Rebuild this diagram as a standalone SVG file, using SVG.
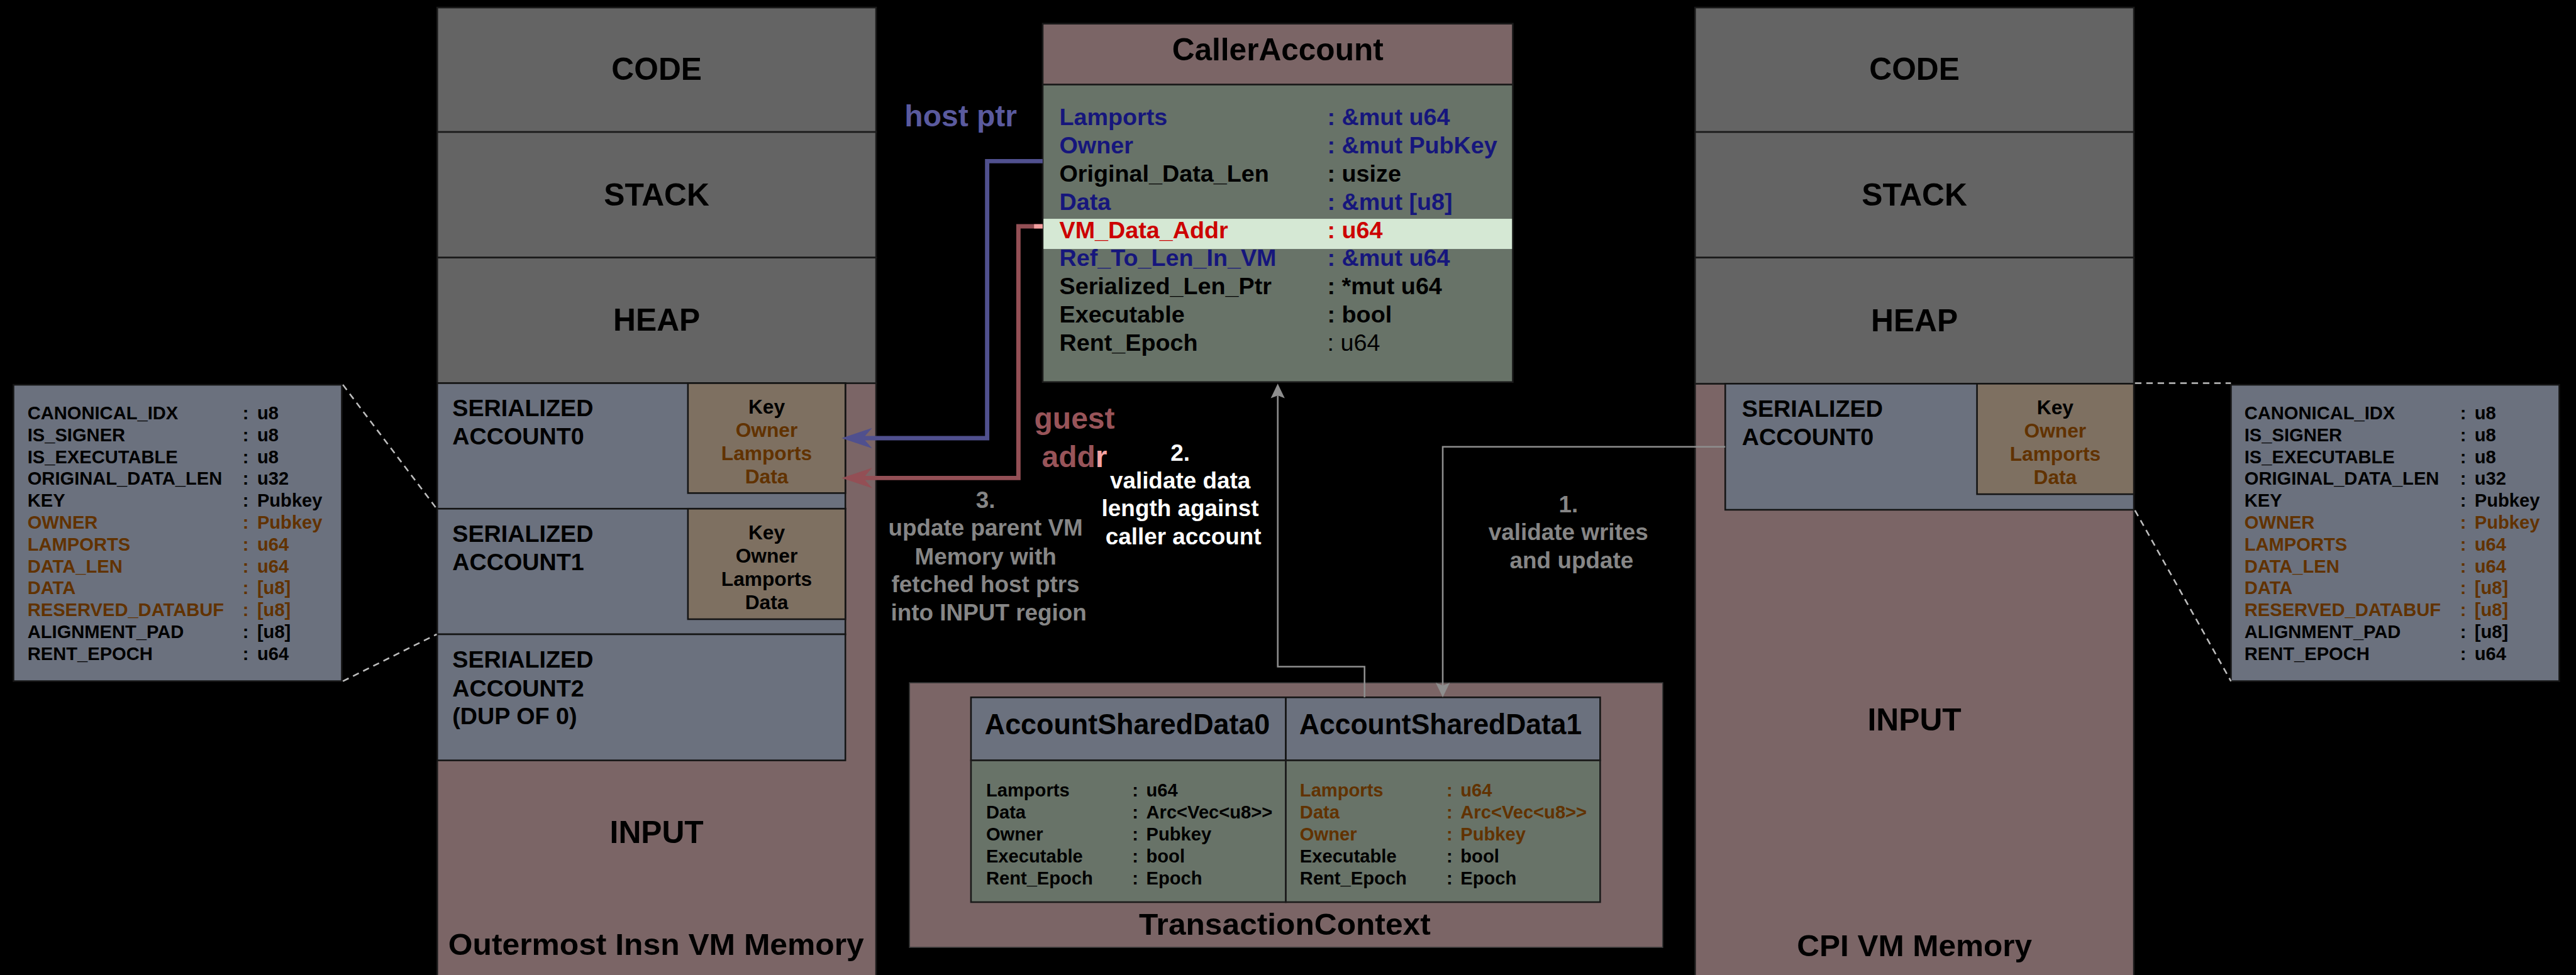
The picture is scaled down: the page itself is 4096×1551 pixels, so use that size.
<svg xmlns="http://www.w3.org/2000/svg" width="4096" height="1551" viewBox="0 0 4096 1551">
  <style>
    text { font-family: "Liberation Sans", Arial, Helvetica, sans-serif; font-weight: bold; fill: #000; }
    .c { text-anchor: middle; }
    .big { font-size: 58px; }
    .ttl { font-size: 56px; }
    .ser { font-size: 44px; }
    .key { font-size: 37px; }
    .det { font-size: 34px; }
    .ca { font-size: 44px; }
    .asd { font-size: 34px; }
    .note { font-size: 43px; }
    .brn { fill: #613200; }
    .nav { fill: #16167c; }
    .red { fill: #cc0000; }
    .gry { fill: #868686; }
    .wht { fill: #ffffff; }
    .reg { font-weight: normal; }
    .sec { fill: #646464; stroke: #1a1a1a; stroke-width: 3; }
    .inp { fill: #7b6566; stroke: #1a1a1a; stroke-width: 3; }
    .acc { fill: #6b717e; stroke: #141414; stroke-width: 3; }
    .kbx { fill: #7e7061; stroke: #141414; stroke-width: 3; }
    .grn { fill: #687368; stroke: #1a1a1a; stroke-width: 3; }
    .dash { fill: none; stroke: #bdbdbd; stroke-width: 3; stroke-dasharray: 12 9; }
    .wire { fill: none; stroke: #8e8e8e; stroke-width: 3; }
  </style>
  <defs>
    <marker id="ah-blue" markerUnits="userSpaceOnUse" markerWidth="60" markerHeight="40" viewBox="-16 -18 54 36" refX="0" refY="0" orient="auto" overflow="visible">
      <path d="M36,0 L-15,-17 L0,0 L-15,17 Z" fill="#50508e"/>
    </marker>
    <marker id="ah-red" markerUnits="userSpaceOnUse" markerWidth="60" markerHeight="40" viewBox="-16 -18 54 36" refX="0" refY="0" orient="auto" overflow="visible">
      <path d="M36,0 L-15,-17 L0,0 L-15,17 Z" fill="#934f55"/>
    </marker>
    <marker id="ah-gray" markerUnits="userSpaceOnUse" markerWidth="30" markerHeight="30" viewBox="-6 -14 30 28" refX="0" refY="0" orient="auto" overflow="visible">
      <path d="M22,0 L-5,-13 L0,0 L-5,13 Z" fill="#8e8e8e"/>
    </marker>
  </defs>

  <rect width="4096" height="1551" fill="#000"/>

  <g transform="scale(0.85726)">

    <!-- Serialized account field layout (left) -->
    <g id="layout-left">
      <rect x="25" y="714" width="609" height="550" class="acc" stroke="#3a3a3a"/>
      <g class="det">
        <text x="51" y="778">CANONICAL_IDX</text><text x="450" y="778">:</text><text x="477" y="778">u8</text>
        <text x="51" y="818.6">IS_SIGNER</text><text x="450" y="818.6">:</text><text x="477" y="818.6">u8</text>
        <text x="51" y="859.2">IS_EXECUTABLE</text><text x="450" y="859.2">:</text><text x="477" y="859.2">u8</text>
        <text x="51" y="899.8">ORIGINAL_DATA_LEN</text><text x="450" y="899.8">:</text><text x="477" y="899.8">u32</text>
        <text x="51" y="940.4">KEY</text><text x="450" y="940.4">:</text><text x="477" y="940.4">Pubkey</text>
        <text x="51" y="981" class="brn">OWNER</text><text x="450" y="981" class="brn">:</text><text x="477" y="981" class="brn">Pubkey</text>
        <text x="51" y="1021.6" class="brn">LAMPORTS</text><text x="450" y="1021.6" class="brn">:</text><text x="477" y="1021.6" class="brn">u64</text>
        <text x="51" y="1062.2" class="brn">DATA_LEN</text><text x="450" y="1062.2" class="brn">:</text><text x="477" y="1062.2" class="brn">u64</text>
        <text x="51" y="1102.8" class="brn">DATA</text><text x="450" y="1102.8" class="brn">:</text><text x="477" y="1102.8" class="brn">[u8]</text>
        <text x="51" y="1143.4" class="brn">RESERVED_DATABUF</text><text x="450" y="1143.4" class="brn">:</text><text x="477" y="1143.4" class="brn">[u8]</text>
        <text x="51" y="1184">ALIGNMENT_PAD</text><text x="450" y="1184">:</text><text x="477" y="1184">[u8]</text>
        <text x="51" y="1224.6">RENT_EPOCH</text><text x="450" y="1224.6">:</text><text x="477" y="1224.6">u64</text>
      </g>
    </g>

    <!-- Outermost instruction VM memory -->
    <g id="vm-outer">
      <rect x="811" y="711" width="814" height="1110" class="inp"/>
      <rect x="811" y="14" width="814" height="231" class="sec"/>
      <rect x="811" y="245" width="814" height="233" class="sec"/>
      <rect x="811" y="478" width="814" height="233" class="sec"/>
      <text x="1218" y="148" class="big c">CODE</text>
      <text x="1218" y="381" class="big c">STACK</text>
      <text x="1218" y="614" class="big c">HEAP</text>

      <g id="outer-acct0">
        <rect x="811" y="711" width="757" height="233" class="acc"/>
        <rect x="1276" y="711" width="292" height="204" class="kbx"/>
        <text x="839" y="772" class="ser">SERIALIZED</text>
        <text x="839" y="825" class="ser">ACCOUNT0</text>
        <text x="1422" y="768" class="key c">Key</text>
        <text x="1422" y="811" class="key c brn">Owner</text>
        <text x="1422" y="854" class="key c brn">Lamports</text>
        <text x="1422" y="897" class="key c brn">Data</text>
      </g>
      <g id="outer-acct1">
        <rect x="811" y="944" width="757" height="233" class="acc"/>
        <rect x="1276" y="944" width="292" height="205" class="kbx"/>
        <text x="839" y="1005" class="ser">SERIALIZED</text>
        <text x="839" y="1058" class="ser">ACCOUNT1</text>
        <text x="1422" y="1001" class="key c">Key</text>
        <text x="1422" y="1044" class="key c">Owner</text>
        <text x="1422" y="1087" class="key c">Lamports</text>
        <text x="1422" y="1130" class="key c">Data</text>
      </g>
      <g id="outer-acct2">
        <rect x="811" y="1177" width="757" height="234" class="acc"/>
        <text x="839" y="1239" class="ser">SERIALIZED</text>
        <text x="839" y="1292" class="ser">ACCOUNT2</text>
        <text x="839" y="1344" class="ser">(DUP OF 0)</text>
      </g>
      <text x="1218" y="1564" class="big c">INPUT</text>
      <text x="1217" y="1772" class="ttl c" textLength="771" lengthAdjust="spacingAndGlyphs">Outermost Insn VM Memory</text>
    </g>

    <!-- CallerAccount -->
    <g id="caller-account">
      <rect x="1934" y="44" width="872" height="113" fill="#7b6566" stroke="#1a1a1a" stroke-width="3"/>
      <rect x="1934" y="157" width="872" height="552" class="grn"/>
      <rect x="1935.5" y="406" width="869" height="56" fill="#d5e8d4"/>
      <text x="2370" y="112" class="c" font-size="58" textLength="392" lengthAdjust="spacingAndGlyphs">CallerAccount</text>
      <g class="ca">
        <text x="1965" y="232" class="nav">Lamports</text><text x="2462" y="232" class="nav">: &amp;mut u64</text>
        <text x="1965" y="284.4" class="nav">Owner</text><text x="2462" y="284.4" class="nav">: &amp;mut PubKey</text>
        <text x="1965" y="336.8">Original_Data_Len</text><text x="2462" y="336.8">: usize</text>
        <text x="1965" y="389.2" class="nav">Data</text><text x="2462" y="389.2" class="nav">: &amp;mut [u8]</text>
        <text x="1965" y="441.6" class="red">VM_Data_Addr</text><text x="2462" y="441.6" class="red">: u64</text>
        <text x="1965" y="494" class="nav">Ref_To_Len_In_VM</text><text x="2462" y="494" class="nav">: &amp;mut u64</text>
        <text x="1965" y="546.4">Serialized_Len_Ptr</text><text x="2462" y="546.4">: *mut u64</text>
        <text x="1965" y="598.8">Executable</text><text x="2462" y="598.8">: bool</text>
        <text x="1965" y="651.2">Rent_Epoch</text><text x="2462" y="651.2" class="reg">: u64</text>
      </g>
    </g>

    <!-- TransactionContext -->
    <g id="transaction-context">
      <rect x="1687" y="1267" width="1397" height="491" fill="#7b6566" stroke="#3a3a3a" stroke-width="2"/>
      <g id="account-shared-data0">
        <rect x="1801" y="1294" width="584" height="117" class="acc"/>
        <rect x="1801" y="1411" width="584" height="263" class="grn"/>
        <text x="2091" y="1363" class="c" font-size="54" textLength="529" lengthAdjust="spacingAndGlyphs">AccountSharedData0</text>
        <g class="asd">
          <text x="1829" y="1478">Lamports</text><text x="2100" y="1478">:</text><text x="2126" y="1478">u64</text>
          <text x="1829" y="1518.7">Data</text><text x="2100" y="1518.7">:</text><text x="2126" y="1518.7">Arc&lt;Vec&lt;u8&gt;&gt;</text>
          <text x="1829" y="1559.4">Owner</text><text x="2100" y="1559.4">:</text><text x="2126" y="1559.4">Pubkey</text>
          <text x="1829" y="1600.1">Executable</text><text x="2100" y="1600.1">:</text><text x="2126" y="1600.1">bool</text>
          <text x="1829" y="1640.8">Rent_Epoch</text><text x="2100" y="1640.8">:</text><text x="2126" y="1640.8">Epoch</text>
        </g>
      </g>
      <g id="account-shared-data1">
        <rect x="2385" y="1294" width="583" height="117" class="acc"/>
        <rect x="2385" y="1411" width="583" height="263" class="grn"/>
        <text x="2672" y="1363" class="c" font-size="54" textLength="524" lengthAdjust="spacingAndGlyphs">AccountSharedData1</text>
        <g class="asd">
          <text x="2411" y="1478" class="brn">Lamports</text><text x="2683" y="1478" class="brn">:</text><text x="2709" y="1478" class="brn">u64</text>
          <text x="2411" y="1518.7" class="brn">Data</text><text x="2683" y="1518.7" class="brn">:</text><text x="2709" y="1518.7" class="brn">Arc&lt;Vec&lt;u8&gt;&gt;</text>
          <text x="2411" y="1559.4" class="brn">Owner</text><text x="2683" y="1559.4" class="brn">:</text><text x="2709" y="1559.4" class="brn">Pubkey</text>
          <text x="2411" y="1600.1">Executable</text><text x="2683" y="1600.1">:</text><text x="2709" y="1600.1">bool</text>
          <text x="2411" y="1640.8">Rent_Epoch</text><text x="2683" y="1640.8">:</text><text x="2709" y="1640.8">Epoch</text>
        </g>
      </g>
      <text x="2383" y="1735" class="c" font-size="57" textLength="541" lengthAdjust="spacingAndGlyphs">TransactionContext</text>
    </g>

    <!-- CPI VM memory -->
    <g id="vm-cpi">
      <rect x="3144" y="712" width="814" height="1110" class="inp"/>
      <rect x="3144" y="14" width="814" height="231" class="sec"/>
      <rect x="3144" y="245" width="814" height="233" class="sec"/>
      <rect x="3144" y="478" width="814" height="234" class="sec"/>
      <text x="3551" y="148" class="big c">CODE</text>
      <text x="3551" y="381" class="big c">STACK</text>
      <text x="3551" y="615" class="big c">HEAP</text>
      <g id="cpi-acct0">
        <rect x="3200" y="712" width="758" height="234" class="acc"/>
        <rect x="3667" y="712" width="291" height="205" class="kbx"/>
        <text x="3231" y="773" class="ser">SERIALIZED</text>
        <text x="3231" y="826" class="ser">ACCOUNT0</text>
        <text x="3812" y="769" class="key c">Key</text>
        <text x="3812" y="812" class="key c brn">Owner</text>
        <text x="3812" y="855" class="key c brn">Lamports</text>
        <text x="3812" y="898" class="key c brn">Data</text>
      </g>
      <text x="3551" y="1356" class="big c">INPUT</text>
      <text x="3551" y="1774" class="ttl c" textLength="436" lengthAdjust="spacingAndGlyphs">CPI VM Memory</text>
    </g>

    <!-- Serialized account field layout (right) -->
    <g id="layout-right">
      <rect x="4138" y="714" width="609" height="550" class="acc" stroke="#3a3a3a"/>
      <g class="det">
        <text x="4163" y="778">CANONICAL_IDX</text><text x="4563" y="778">:</text><text x="4590" y="778">u8</text>
        <text x="4163" y="818.6">IS_SIGNER</text><text x="4563" y="818.6">:</text><text x="4590" y="818.6">u8</text>
        <text x="4163" y="859.2">IS_EXECUTABLE</text><text x="4563" y="859.2">:</text><text x="4590" y="859.2">u8</text>
        <text x="4163" y="899.8">ORIGINAL_DATA_LEN</text><text x="4563" y="899.8">:</text><text x="4590" y="899.8">u32</text>
        <text x="4163" y="940.4">KEY</text><text x="4563" y="940.4">:</text><text x="4590" y="940.4">Pubkey</text>
        <text x="4163" y="981" class="brn">OWNER</text><text x="4563" y="981" class="brn">:</text><text x="4590" y="981" class="brn">Pubkey</text>
        <text x="4163" y="1021.6" class="brn">LAMPORTS</text><text x="4563" y="1021.6" class="brn">:</text><text x="4590" y="1021.6" class="brn">u64</text>
        <text x="4163" y="1062.2" class="brn">DATA_LEN</text><text x="4563" y="1062.2" class="brn">:</text><text x="4590" y="1062.2" class="brn">u64</text>
        <text x="4163" y="1102.8" class="brn">DATA</text><text x="4563" y="1102.8" class="brn">:</text><text x="4590" y="1102.8" class="brn">[u8]</text>
        <text x="4163" y="1143.4" class="brn">RESERVED_DATABUF</text><text x="4563" y="1143.4" class="brn">:</text><text x="4590" y="1143.4" class="brn">[u8]</text>
        <text x="4163" y="1184">ALIGNMENT_PAD</text><text x="4563" y="1184">:</text><text x="4590" y="1184">[u8]</text>
        <text x="4163" y="1224.6">RENT_EPOCH</text><text x="4563" y="1224.6">:</text><text x="4590" y="1224.6">u64</text>
      </g>
    </g>

    <!-- Connectors and their labels -->
    <g id="connectors">
      <path class="dash" d="M636,714 L810,944"/>
      <path class="dash" d="M636,1264 L810,1177"/>
      <path class="dash" d="M3960,711 L4138,711"/>
      <path class="dash" d="M3960,947 L4138,1264"/>

      <path d="M1934,299 H1831 V813 H1601" fill="none" stroke="#50508e" stroke-width="8" marker-end="url(#ah-blue)"/>
      <path d="M1934,420 H1889 V887 H1601" fill="none" stroke="#934f55" stroke-width="8" marker-end="url(#ah-red)"/>
      <rect x="1918" y="416" width="16" height="8" fill="#f4a0a0"/>

      <path class="wire" d="M2531,1294 V1237 H2370 V734" marker-end="url(#ah-gray)"/>
      <path class="wire" d="M3200,829 H2676 V1272" marker-end="url(#ah-gray)"/>

      <text x="1782" y="234" class="ttl c" style="fill:#5a5a9e">host ptr</text>
      <text x="1993" y="795" class="ttl c" style="fill:#985459">guest</text>
      <text x="1993" y="867" class="ttl c" style="fill:#985459">add<tspan style="fill:#f4a3a3">r</tspan></text>

      <text class="note c wht">
        <tspan x="2195" y="855">2.</tspan>
        <tspan x="2195" y="906">validate data</tspan>
        <tspan x="2195" y="958">length against</tspan>
        <tspan x="2195" y="1010">caller account</tspan>
      </text>
      <text class="note c gry">
        <tspan x="1834" y="942">3.</tspan>
        <tspan x="1834" y="994">update parent VM</tspan>
        <tspan x="1834" y="1047">Memory with</tspan>
        <tspan x="1834" y="1099">fetched host ptrs</tspan>
        <tspan x="1834" y="1151">into INPUT region</tspan>
      </text>
      <text class="note c gry">
        <tspan x="2915" y="951">1.</tspan>
        <tspan x="2915" y="1002">validate writes</tspan>
        <tspan x="2915" y="1054">and update</tspan>
      </text>
    </g>
  </g>
</svg>
